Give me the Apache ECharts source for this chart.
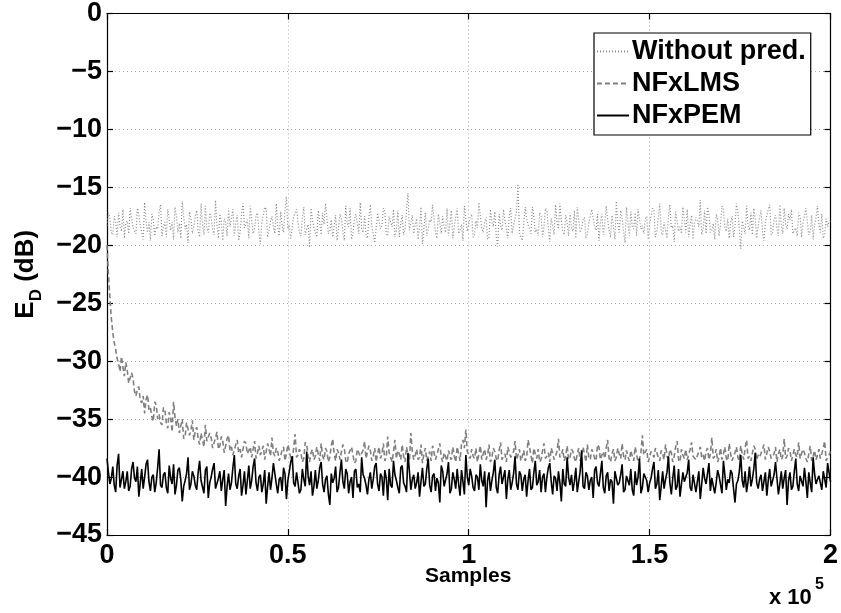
<!DOCTYPE html>
<html>
<head>
<meta charset="utf-8">
<script src="https://cdn.jsdelivr.net/npm/echarts@6/dist/echarts.min.js"></script>
<style>html,body{margin:0;padding:0;background:#fff;}#c{width:841px;height:613px;}</style>
</head>
<body>
<div id="c"></div>
<script>
// x axis range in samples
const xMax = 200000;
const xTicks = [0, 50000, 100000, 150000, 200000];
const yTicks = [0, -5, -10, -15, -20, -25, -30, -35, -40, -45];
const seriesNames = ['Without pred.', 'NFxLMS', 'NFxPEM'];

// even-indexed readings (every 800 samples)
const withoutPredEven = [
-18.3,-17.6,-19.1,-18.0,-17.2,-18.8,-19.4,-17.9,-16.8,-18.5,
-19.0,-17.4,-18.2,-16.3,-18.9,-19.6,-17.8,-18.4,-17.1,-19.2,
-18.0,-16.9,-18.7,-19.5,-17.5,-18.1,-16.2,-18.6,-19.8,-17.7,
-18.4,-17.0,-19.3,-18.2,-16.6,-18.9,-17.6,-19.1,-18.3,-17.3,
-19.6,-18.0,-16.8,-18.5,-19.2,-17.4,-18.8,-16.4,-18.1,-19.4,
-17.9,-18.6,-17.2,-19.9,-18.2,-16.9,-18.7,-17.5,-19.0,-18.4,
-17.1,-18.9,-15.8,-18.3,-19.5,-17.6,-18.0,-19.2,-16.7,-18.6,
-20.2,-17.8,-18.4,-17.0,-19.1,-18.2,-16.3,-18.8,-19.3,-17.4,
-18.5,-17.7,-19.6,-18.1,-16.8,-18.9,-17.3,-19.0,-18.6,-17.5,
-19.4,-16.5,-18.2,-19.7,-17.9,-18.3,-17.1,-19.2,-18.0,-16.9,
-18.7,-19.3,-17.4,-18.5,-15.5,-18.8,-19.0,-17.7,-18.3,-19.9,
-17.2,-18.6,-18.0,-16.6,-19.4,-18.1,-17.5,-18.9,-19.2,-17.0,
-18.4,-16.8,-18.7,-19.6,-17.8,-18.2,-17.3,-19.1,-18.5,-16.4,
-18.9,-17.6,-19.3,-18.0,-17.1,-20.1,-18.3,-16.9,-18.6,-17.4,
-19.0,-18.2,-14.7,-18.8,-19.5,-17.7,-18.1,-16.7,-18.9,-19.2,
-17.5,-18.4,-17.0,-19.7,-18.3,-16.5,-18.6,-17.9,-19.1,-18.0,
-17.2,-18.8,-19.4,-16.6,-18.5,-17.6,-19.0,-18.2,-16.9,-18.7,
-19.6,-17.3,-18.1,-17.8,-19.3,-18.4,-16.2,-18.9,-17.5,-19.8,
-18.0,-17.1,-18.6,-19.2,-16.8,-18.3,-17.7,-19.5,-18.2,-17.0,
-18.8,-16.4,-19.1,-18.0,-17.6,-18.5,-19.7,-17.2,-18.4,-16.7,
-18.9,-19.3,-17.4,-18.1,-17.9,-16.1,-18.6,-19.0,-17.3,-18.7,
-19.5,-17.8,-18.2,-16.9,-18.8,-19.4,-17.5,-18.3,-17.1,-20.3,
-18.0,-16.6,-18.7,-19.1,-17.7,-18.4,-17.0,-19.6,-18.1,-16.5,
-18.9,-17.4,-19.2,-18.3,-16.8,-18.6,-17.8,-19.0,-18.5,-17.2,
-19.3,-18.0,-16.7,-18.8,-19.5,-17.6,-18.2,-17.3,-19.1,-18.4,
-17.9
];
// odd-indexed readings (between the even ones)
const withoutPredOdd = [
-17.2,-18.9,-17.5,-19.3,-18.4,-16.9,-18.1,-19.0,-17.7,-18.6,
-16.8,-18.3,-19.5,-17.9,-18.0,-17.3,-19.2,-18.6,-16.5,-18.4,
-19.3,-17.8,-18.0,-16.7,-18.9,-19.4,-17.6,-18.2,-17.1,-19.0,
-17.5,-18.8,-16.4,-19.1,-18.5,-17.2,-18.7,-16.1,-19.4,-18.0,
-17.7,-19.2,-18.4,-16.9,-18.1,-19.6,-17.3,-18.5,-17.8,-16.6,
-19.0,-17.4,-18.8,-18.1,-16.7,-19.3,-17.9,-18.4,-16.4,-19.2,
-18.3,-17.0,-18.6,-19.4,-17.5,-16.9,-18.9,-17.6,-19.1,-18.2,
-16.8,-18.5,-19.3,-18.0,-17.2,-16.4,-19.0,-17.8,-18.3,-19.6,
-17.3,-18.8,-16.6,-18.4,-19.5,-17.7,-18.1,-16.3,-18.9,-19.1,
-17.6,-18.3,-19.8,-17.2,-18.6,-16.8,-19.0,-17.5,-18.4,-19.3,
-17.0,-18.1,-19.1,-16.9,-18.7,-17.4,-18.2,-19.5,-16.7,-18.5,
-19.2,-17.8,-16.5,-18.9,-17.3,-19.0,-18.4,-16.8,-18.1,-19.4,
-17.6,-19.0,-18.2,-16.6,-18.8,-17.5,-19.3,-17.9,-16.3,-18.6,
-18.0,-19.5,-16.9,-18.4,-19.2,-17.3,-18.7,-17.8,-19.4,-16.8,
-18.3,-17.1,-18.9,-19.6,-16.7,-18.2,-19.0,-17.5,-18.6,-17.2,
-19.3,-16.8,-18.5,-17.7,-19.1,-18.0,-16.4,-18.8,-17.4,-19.2,
-18.5,-17.0,-16.7,-18.9,-17.8,-19.4,-18.1,-16.9,-18.4,-17.3,
-18.0,-19.1,-16.6,-18.7,-17.4,-19.5,-18.2,-17.0,-18.8,-16.7,
-19.2,-18.4,-17.2,-16.9,-18.6,-19.0,-17.5,-18.1,-16.8,-19.3,
-17.6,-18.9,-18.0,-19.4,-16.5,-18.3,-17.1,-18.8,-19.0,-17.8,
-16.9,-18.2,-19.5,-17.6,-18.4,-19.1,-17.0,-16.7,-18.9,-18.1,
-17.3,-19.2,-16.6,-18.5,-17.7,-18.0,-19.3,-16.4,-18.6,-17.9,
-19.0,-18.3,-17.2,-16.8,-19.4,-17.6,-18.8,-18.0,-16.9,-19.1,
-17.7,-18.5,-16.5,-19.0,-18.2,-17.3,-16.9,-18.7,-19.2,-17.5,
-18.1,-16.8,-19.1,-17.4,-18.3,-16.6,-18.9,-19.4,-17.7,-18.0
];

const nfxlmsEven = [
-20.0,-24.5,-27.5,-29.0,-30.2,-29.6,-31.3,-30.8,-32.0,-31.5,
-33.0,-32.2,-33.6,-34.5,-32.9,-34.0,-35.2,-33.8,-34.6,-35.5,
-34.2,-35.8,-34.9,-33.5,-35.6,-36.2,-35.0,-36.5,-35.4,-36.0,
-36.8,-35.7,-37.2,-36.3,-35.5,-37.0,-36.6,-37.5,-36.1,-37.3,
-36.9,-37.8,-36.4,-37.4,-38.0,-36.8,-37.6,-38.2,-37.1,-37.7,
-38.3,-36.9,-37.9,-38.1,-37.3,-38.4,-37.6,-36.6,-38.2,-37.8,
-38.5,-37.4,-38.0,-37.7,-38.6,-36.3,-38.1,-37.9,-38.4,-37.2,
-38.7,-37.6,-38.2,-38.0,-37.1,-38.5,-37.8,-38.3,-36.7,-38.6,
-37.9,-38.4,-37.5,-38.8,-38.1,-37.3,-38.6,-37.9,-38.3,-36.9,
-38.5,-37.7,-38.2,-38.7,-37.4,-38.0,-38.6,-36.5,-38.3,-37.8,
-38.4,-38.0,-37.2,-38.7,-38.1,-36.2,-38.5,-37.6,-38.3,-38.8,
-37.5,-38.2,-38.6,-37.9,-38.4,-37.1,-38.7,-38.0,-37.7,-38.5,
-38.2,-37.4,-38.6,-36.8,-35.9,-38.1,-37.6,-38.4,-38.7,-37.3,
-38.0,-38.5,-37.2,-38.3,-37.8,-38.6,-37.0,-38.2,-38.7,-37.5,
-38.4,-36.9,-38.1,-38.6,-37.7,-38.3,-37.4,-38.8,-38.0,-37.6,
-38.5,-37.1,-38.2,-38.7,-37.9,-38.4,-36.7,-38.1,-38.6,-37.3,
-38.3,-37.8,-38.7,-37.5,-38.2,-38.0,-37.2,-38.5,-37.9,-38.6,
-37.4,-38.1,-38.4,-36.8,-38.7,-37.6,-38.3,-38.0,-37.1,-38.5,
-38.2,-37.7,-38.6,-37.3,-38.4,-36.4,-38.1,-38.7,-37.8,-38.3,
-37.5,-38.6,-38.0,-37.2,-38.5,-37.9,-38.2,-36.9,-38.7,-38.1,
-37.6,-38.4,-37.0,-38.3,-38.6,-37.4,-38.1,-37.8,-38.5,-36.6,
-38.2,-38.7,-37.5,-38.0,-38.4,-37.1,-38.6,-37.9,-38.3,-37.3,
-38.5,-36.8,-38.2,-38.7,-37.6,-38.1,-38.4,-37.2,-38.6,-37.8,
-38.3,-37.4,-38.0,-38.5,-36.7,-38.2,-37.7,-38.6,-38.1,-37.0,
-38.4,-37.9,-38.7,-37.3,-38.2,-38.5,-37.6,-38.0,-36.9,-38.3,
-37.8
];
const nfxlmsOdd = [
-22.5,-26.3,-28.4,-29.8,-30.9,-30.5,-30.1,-31.9,-31.0,-32.6,
-32.4,-33.4,-33.0,-33.3,-34.2,-34.8,-33.5,-35.0,-35.3,-34.0,
-35.3,-34.4,-36.1,-34.8,-35.0,-35.6,-36.7,-35.3,-36.4,-35.1,
-36.0,-36.7,-36.2,-37.4,-36.9,-36.2,-37.5,-36.6,-37.6,-36.5,
-37.9,-36.7,-37.7,-38.1,-37.2,-37.9,-38.3,-36.9,-38.0,-37.4,
-37.6,-38.4,-37.3,-38.0,-38.5,-37.1,-38.2,-37.9,-37.5,-38.6,
-37.7,-38.6,-37.2,-38.4,-37.5,-38.3,-37.6,-38.7,-37.0,-38.2,
-37.9,-38.5,-37.4,-38.6,-38.2,-37.5,-38.7,-37.3,-38.0,-37.6,
-38.5,-37.2,-38.6,-38.0,-37.4,-38.8,-37.6,-38.2,-37.7,-38.4,
-37.3,-38.6,-37.5,-38.0,-38.4,-37.1,-38.3,-37.9,-38.7,-36.8,
-37.7,-38.5,-38.2,-37.4,-38.6,-37.8,-38.1,-38.5,-37.2,-38.0,
-38.6,-37.8,-37.3,-38.5,-37.6,-38.3,-37.9,-38.6,-38.2,-37.4,
-38.7,-38.0,-37.1,-37.5,-37.8,-38.4,-38.2,-37.5,-38.0,-38.5,
-37.6,-38.1,-38.7,-37.5,-38.4,-37.7,-38.5,-38.0,-37.4,-38.3,
-37.8,-38.5,-37.6,-38.2,-38.6,-36.8,-38.2,-37.5,-38.4,-38.7,
-37.7,-38.4,-37.9,-37.5,-38.5,-37.8,-38.3,-37.6,-38.2,-38.5,
-37.6,-38.4,-38.0,-38.6,-37.4,-38.7,-38.3,-37.6,-38.4,-37.2,
-38.5,-37.8,-37.5,-38.4,-38.0,-38.6,-37.5,-38.4,-38.2,-37.7,
-38.6,-38.2,-37.4,-38.7,-37.9,-38.1,-37.6,-38.3,-38.0,-37.5,
-38.3,-37.7,-38.5,-38.2,-37.6,-38.7,-37.4,-38.5,-37.6,-38.4,
-38.5,-37.6,-38.2,-38.5,-37.8,-38.3,-38.6,-37.5,-38.0,-38.4,
-37.6,-38.3,-38.5,-37.4,-38.6,-38.0,-38.2,-37.4,-38.6,-38.0,
-37.5,-38.4,-38.6,-37.3,-38.5,-38.3,-37.6,-38.5,-37.4,-38.4,
-38.0,-38.7,-37.6,-38.2,-38.4,-37.5,-38.6,-37.6,-38.3,-38.4,
-37.6,-38.4,-38.0,-38.6,-37.7,-38.1,-38.4,-37.5,-38.6,-38.1
];

const nfxpemEven = [
-38.4,-40.6,-39.1,-41.3,-38.0,-40.2,-41.0,-39.5,-40.8,-38.7,
-40.4,-41.7,-39.3,-40.0,-38.5,-41.2,-39.8,-40.5,-37.6,-40.9,
-39.6,-41.4,-40.1,-38.9,-40.7,-39.2,-42.1,-40.3,-38.3,-40.6,
-39.9,-41.1,-38.6,-40.4,-39.4,-41.8,-40.0,-38.8,-40.9,-39.5,
-40.2,-42.5,-39.7,-40.5,-38.1,-41.0,-39.3,-40.7,-41.5,-39.0,
-40.3,-38.4,-41.2,-39.8,-40.6,-42.3,-39.6,-40.1,-38.9,-41.4,
-40.0,-39.2,-41.9,-40.4,-38.2,-40.8,-39.5,-41.1,-40.2,-37.8,
-40.7,-41.6,-39.4,-40.3,-38.7,-41.3,-39.9,-42.4,-40.5,-39.1,
-40.9,-38.5,-41.0,-39.7,-40.4,-41.8,-39.3,-40.6,-38.3,-40.1,
-41.5,-39.6,-40.2,-38.8,-41.2,-40.0,-39.4,-42.0,-40.7,-38.6,
-40.3,-41.4,-39.0,-40.8,-37.9,-41.1,-39.8,-40.5,-41.7,-39.2,
-40.6,-38.4,-41.3,-39.7,-40.1,-42.2,-39.5,-40.9,-38.7,-41.0,
-40.2,-39.3,-41.6,-40.4,-38.1,-40.7,-39.9,-41.2,-40.0,-38.9,
-40.8,-42.6,-39.6,-40.3,-38.5,-41.4,-39.1,-40.6,-41.9,-39.4,
-40.5,-38.2,-41.1,-39.8,-40.2,-41.7,-39.3,-40.9,-38.6,-40.4,
-41.3,-39.7,-40.0,-38.8,-41.5,-40.1,-39.5,-42.1,-40.6,-38.3,
-40.7,-41.2,-39.2,-40.4,-37.7,-41.0,-39.9,-40.3,-41.8,-39.1,
-40.8,-38.6,-41.4,-39.6,-40.2,-42.3,-39.4,-40.5,-38.9,-41.1,
-40.0,-39.3,-41.6,-40.7,-38.4,-40.9,-39.7,-41.3,-40.1,-38.7,
-40.6,-42.0,-39.5,-40.2,-38.2,-41.5,-39.0,-40.8,-41.7,-39.6,
-40.3,-38.5,-41.2,-39.8,-40.4,-41.9,-39.2,-40.6,-38.8,-40.1,
-41.4,-39.4,-40.0,-38.6,-41.1,-40.5,-39.7,-42.2,-40.3,-38.1,
-40.9,-41.3,-39.1,-40.2,-37.9,-41.0,-39.8,-40.4,-41.6,-39.3,
-40.7,-38.7,-41.5,-39.5,-40.1,-42.4,-39.6,-40.8,-38.4,-41.2,
-40.0,-39.2,-41.8,-40.5,-38.3,-40.6,-39.9,-41.1,-40.2,-38.8,
-40.4
];
const nfxpemOdd = [
-39.6,-40.1,-40.7,-39.0,-40.9,-39.5,-40.4,-41.2,-39.3,-40.1,
-39.1,-40.5,-41.0,-38.9,-40.4,-40.0,-41.3,-39.2,-40.7,-39.8,
-40.9,-39.0,-40.6,-41.5,-39.4,-40.2,-40.8,-39.7,-41.1,-39.5,
-40.7,-39.6,-40.3,-41.4,-39.1,-40.5,-39.3,-41.0,-40.1,-41.2,
-39.4,-40.8,-41.1,-39.2,-40.6,-39.9,-41.6,-39.5,-40.3,-41.0,
-39.1,-40.5,-40.0,-41.3,-39.4,-40.8,-41.1,-38.8,-40.6,-40.2,
-41.2,-39.7,-40.3,-38.7,-40.5,-39.6,-41.4,-39.3,-40.8,-39.9,
-39.5,-40.8,-41.0,-39.2,-40.6,-40.2,-41.5,-39.7,-40.1,-41.3,
-39.6,-40.4,-39.3,-41.4,-40.0,-39.5,-40.9,-41.3,-39.8,-40.7,
-40.2,-41.0,-39.1,-40.6,-39.7,-41.6,-40.1,-39.3,-40.9,-39.8,
-40.9,-39.2,-40.5,-41.3,-39.5,-40.2,-41.0,-39.6,-40.4,-40.8,
-39.3,-40.7,-39.9,-41.2,-40.5,-39.0,-40.8,-39.7,-41.4,-39.6,
-41.0,-40.6,-39.4,-41.5,-40.0,-39.3,-40.9,-39.8,-41.1,-40.3,
-39.5,-40.3,-41.2,-39.6,-40.9,-39.8,-40.6,-39.4,-40.2,-41.1,
-39.7,-40.6,-39.5,-41.2,-39.8,-40.3,-41.1,-39.6,-40.7,-39.4,
-40.0,-41.3,-39.2,-40.4,-39.9,-41.2,-40.5,-39.3,-40.8,-40.0,
-39.8,-40.4,-41.3,-39.5,-40.8,-39.6,-41.1,-40.0,-39.4,-40.5,
-39.7,-40.9,-39.9,-41.2,-40.4,-39.5,-40.7,-39.8,-41.3,-39.9,
-40.7,-41.1,-39.5,-40.0,-41.4,-39.7,-40.3,-40.5,-39.3,-41.0,
-39.4,-40.8,-41.0,-39.6,-40.5,-40.1,-41.1,-39.3,-40.6,-40.4,
-39.6,-40.9,-39.8,-41.3,-39.5,-40.6,-40.1,-39.7,-41.2,-40.0,
-40.5,-39.9,-41.4,-39.8,-40.2,-39.4,-41.0,-40.6,-39.5,-40.3,
-39.5,-40.4,-40.8,-39.3,-40.5,-40.2,-41.2,-39.6,-40.3,-40.8,
-39.8,-40.1,-40.6,-41.0,-39.4,-40.3,-41.1,-39.5,-40.6,-39.9,
-40.8,-40.4,-39.6,-41.3,-39.7,-40.2,-40.5,-39.5,-40.9,-39.6
];

// merge the even/odd readings into sample order and attach sample numbers
function toPairs(even, odd) {
  const vals = [];
  for (let i = 0; i < even.length; i++) {
    vals.push(even[i]);
    if (i < odd.length) vals.push(odd[i]);
  }
  const step = xMax / (vals.length - 1);
  return vals.map((v, i) => [i * step, v]);
}

const FONT = '"Liberation Sans", Arial, Helvetica, sans-serif';
const chart = echarts.init(document.getElementById('c'), null, { renderer: 'canvas' });

const baseX = {
  type: 'value', min: 0, max: xMax, interval: 50000,
  axisLine: { show: true, onZero: false, lineStyle: { color: '#000', width: 1.2 } },
  axisTick: { show: true, inside: true, length: 6, lineStyle: { color: '#000', width: 1.2 } }
};
const baseY = {
  type: 'value', min: -45, max: 0, interval: 5,
  axisLine: { show: true, onZero: false, lineStyle: { color: '#000', width: 1.2 } },
  axisTick: { show: true, inside: true, length: 6, lineStyle: { color: '#000', width: 1.2 } }
};

chart.setOption({
  animation: false,
  backgroundColor: '#fff',
  textStyle: { fontFamily: FONT },
  grid: { left: 107, right: 8, top: 13, bottom: 78, containLabel: false },
  xAxis: [
    Object.assign({}, baseX, {
      position: 'bottom',
      axisLabel: {
        show: true, margin: 7, color: '#000', fontSize: 27, fontWeight: 'bold', fontFamily: FONT,
        formatter: v => String(v / 100000)
      },
      splitLine: { show: true, lineStyle: { color: '#aaa', type: [1, 3], width: 1 } }
    }),
    Object.assign({}, baseX, {
      position: 'top',
      axisLabel: { show: false },
      splitLine: { show: false }
    })
  ],
  yAxis: [
    Object.assign({}, baseY, {
      position: 'left',
      name: '{e|E}{d|D}{e| (dB)}',
      nameLocation: 'middle',
      nameGap: 62,
      nameRotate: 90,
      nameTextStyle: {
        color: '#000', fontFamily: FONT, fontWeight: 'bold', fontSize: 26,
        rich: {
          e: { color: '#000', fontFamily: FONT, fontWeight: 'bold', fontSize: 26 },
          d: { color: '#000', fontFamily: FONT, fontWeight: 'bold', fontSize: 17, padding: [22, 0, 0, 0] }
        }
      },
      axisLabel: {
        show: true, margin: 5, color: '#000', fontSize: 27, fontWeight: 'bold', fontFamily: FONT,
        formatter: v => String(v).replace('-', '\u2212')
      },
      splitLine: { show: true, lineStyle: { color: '#aaa', type: [1, 3], width: 1 } }
    }),
    Object.assign({}, baseY, {
      position: 'right',
      axisLabel: { show: false },
      splitLine: { show: false }
    })
  ],
  legend: {
    show: true,
    orient: 'vertical',
    left: 594, top: 33,
    padding: [5, 5, 6, 2],
    itemGap: 5,
    itemWidth: 32,
    itemHeight: 20,
    itemStyle: { opacity: 0 },
    backgroundColor: '#fff',
    borderColor: '#000',
    borderWidth: 1.2,
    borderRadius: 0,
    textStyle: { color: '#000', fontSize: 27, fontWeight: 'bold', fontFamily: FONT, padding: [0, 0, 0, -2] },
    data: seriesNames
  },
  graphic: [
    {
      type: 'text', left: 425, top: 566,
      style: { text: 'Samples', fill: '#000', font: 'bold 21px ' + FONT }
    },
    {
      type: 'text', left: 769, top: 587,
      style: { text: 'x 10', fill: '#000', font: 'bold 22px ' + FONT }
    },
    {
      type: 'text', left: 815, top: 577,
      style: { text: '5', fill: '#000', font: 'bold 16px ' + FONT }
    }
  ],
  series: [
    {
      name: seriesNames[0], type: 'line', data: toPairs(withoutPredEven, withoutPredOdd),
      showSymbol: false, symbol: 'none', smooth: false,
      lineStyle: { color: '#8c8c8c', width: 1.2, type: [1, 2] },
      itemStyle: { color: '#8c8c8c' }
    },
    {
      name: seriesNames[1], type: 'line', data: toPairs(nfxlmsEven, nfxlmsOdd),
      showSymbol: false, symbol: 'none', smooth: false,
      lineStyle: { color: '#808080', width: 1.6, type: [5, 3] },
      itemStyle: { color: '#808080' }
    },
    {
      name: seriesNames[2], type: 'line', data: toPairs(nfxpemEven, nfxpemOdd),
      showSymbol: false, symbol: 'none', smooth: false,
      lineStyle: { color: '#000', width: 1.6, type: 'solid' },
      itemStyle: { color: '#000' }
    }
  ]
});
</script>
</body>
</html>
